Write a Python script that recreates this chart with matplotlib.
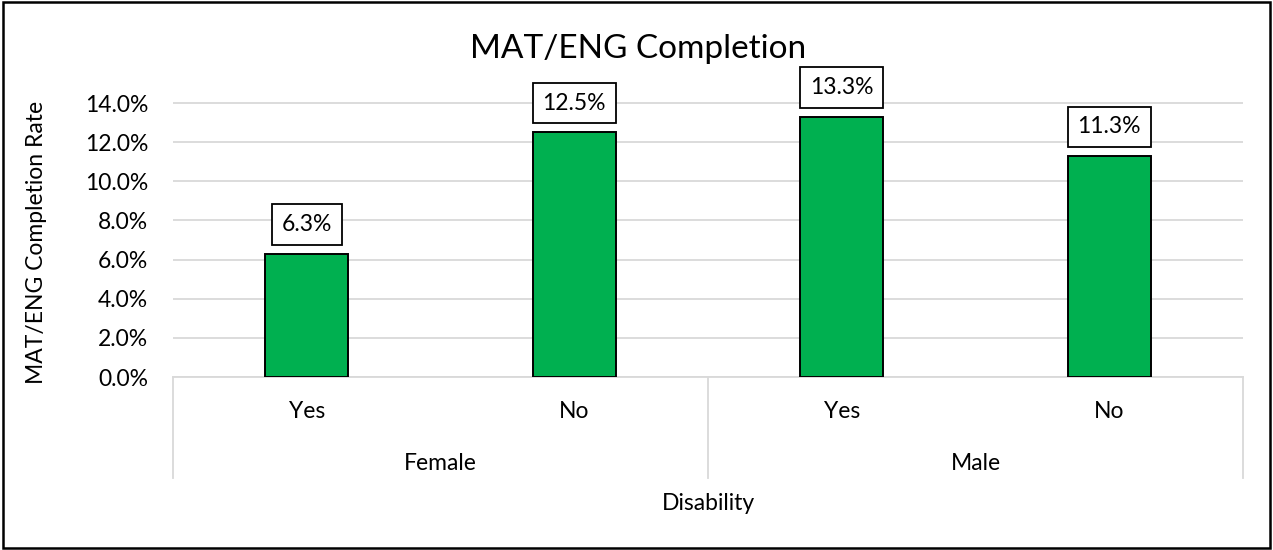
import matplotlib.pyplot as plt
from matplotlib.ticker import FuncFormatter

plt.rcParams['font.family'] = ['Lato', 'DejaVu Sans']

genders = ['Female', 'Male']
disability = ['Yes', 'No', 'Yes', 'No']
rates = [6.3, 12.5, 13.3, 11.3]

fig = plt.figure(figsize=(12.73, 5.5), dpi=100)
ax = fig.add_axes([173 / 1273, 1 - 377 / 550, (1243 - 173) / 1273, (377 - 103) / 550 * 16 / 14])

x = list(range(len(rates)))
bars = ax.bar(x, rates, width=0.31, color='#00B050', edgecolor='black', linewidth=1.4, zorder=3)

for b, v in zip(bars, rates):
    ax.annotate('{:.1f}%'.format(v), (b.get_x() + b.get_width() / 2, v),
                xytext=(0, 21), textcoords='offset points', ha='center', va='center',
                fontsize=16.5,
                bbox=dict(boxstyle='square,pad=0.42', fc='white', ec='black', lw=1.3))

ax.set_xlim(-0.5, 3.5)
ax.set_ylim(0, 16)
ax.set_yticks([0, 2, 4, 6, 8, 10, 12, 14])
ax.yaxis.set_major_formatter(FuncFormatter(lambda v, p: '{:.1f}%'.format(v)))
ax.tick_params(axis='y', length=0, labelsize=16.5, pad=18)
ax.set_xticks([])
ax.grid(axis='y', color='#d9d9d9', linewidth=1.3, zorder=0)
for s in ['top', 'right', 'left']:
    ax.spines[s].set_visible(False)
ax.spines['bottom'].set_color('#d9d9d9')
ax.spines['bottom'].set_linewidth(1.3)

# multi-level category axis
tr = ax.get_xaxis_transform()
for xv in [-0.5, 1.5, 3.5]:
    ax.plot([xv, xv], [0, -0.323], transform=tr, color='#d9d9d9', lw=1.3, clip_on=False)
for xv, lab in zip(x, disability):
    ax.text(xv, -0.11, lab, transform=tr, ha='center', va='center', fontsize=16.5)
for i, g in enumerate(genders):
    ax.text(0.5 + 2 * i, -0.275, g, transform=tr, ha='center', va='center', fontsize=16.5)

fig.text((173 + 1243) / 2 / 1273, 1 - 503 / 550, 'Disability', ha='center', va='center', fontsize=16.5)
fig.text(37 / 1273, 1 - 242 / 550, 'MAT/ENG Completion Rate', rotation=90, ha='center', va='center', fontsize=16.5)
fig.text(638 / 1273, 1 - 49 / 550, 'MAT/ENG Completion', ha='center', va='center', fontsize=24)

fig.patches.append(plt.Rectangle((0.002, 0.003), 0.996, 0.994, transform=fig.transFigure,
                                 fill=False, ec='black', lw=1.8))

fig.savefig('out.png', dpi=100)
